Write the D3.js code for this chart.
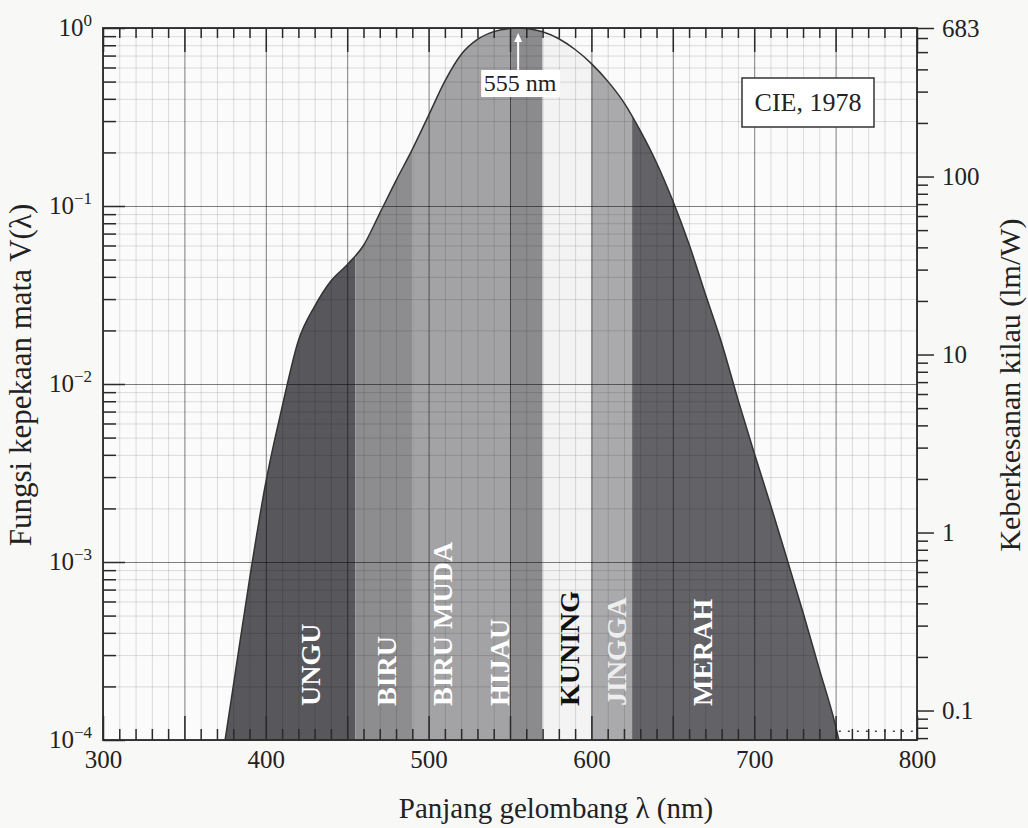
<!DOCTYPE html>
<html>
<head>
<meta charset="utf-8">
<script src="https://cdn.jsdelivr.net/npm/d3@7"></script>
<style>
  body { margin: 0; background: #f8f8f7; }
  svg { display: block; font-family: "Liberation Serif", "Times New Roman", serif; }
</style>
</head>
<body>
<script>
// V(lambda) (CIE 1978 photopic curve)
const wavelengths = [375, 380, 390, 400, 410, 420, 430, 440, 450, 460, 470, 480, 490, 500,
  510, 520, 530, 540, 550, 555, 560, 570, 580, 590, 600, 610, 620, 630, 640, 650, 660,
  670, 680, 690, 700, 710, 720, 730, 740, 750, 752];
const sensitivity = [1.0e-4, 2.0e-4, 8.0e-4, 2.8e-3, 7.4e-3, 1.75e-2, 2.73e-2, 3.79e-2, 4.68e-2,
  6.0e-2, 9.1e-2, 0.139, 0.208, 0.323, 0.503, 0.710, 0.862, 0.954, 0.995, 1.0, 0.995, 0.952,
  0.870, 0.757, 0.631, 0.503, 0.381, 0.265, 0.175, 0.107, 0.061, 0.032, 0.017, 0.0082,
  0.0041, 0.0021, 0.00105, 0.00052, 0.00025, 0.00012, 0.0001];

// colour bands
const bandNames = ["UNGU", "BIRU", "BIRU MUDA", "HIJAU", "KUNING", "JINGGA", "MERAH"];
const bandStarts = [370, 455, 490, 550, 570, 600, 625];
const bandEnds = [455, 490, 550, 570, 600, 625, 760];
const bandLabelAt = [427, 474, 508.5, 543.5, 586.5, 615.5, 668];
const bandColors = ["#58585c", "#8d8d90", "#a3a3a6", "#8b8b8e", "#f3f3f3", "#aaaaad", "#636367"];
const bandTextColors = ["#fff", "#fff", "#fff", "#fff", "#111", "#eee", "#fff"];

// axes
const xLabelTicks = [300, 400, 500, 600, 700, 800];
const leftDecades = [1e-4, 1e-3, 1e-2, 1e-1, 1];
const rightMajor = [0.1, 1, 10, 100, 683];
const rightLabels = ["0.1", "1", "10", "100", "683"];

const peakWavelength = 555;
const tailWavelengths = [752, 800];
const tailLevel = 1.12e-4;

const width = 1028, height = 828;
const plot = {left: 103, right: 917, top: 28, bottom: 740};

const svg = d3.select("body").append("svg")
    .attr("width", width)
    .attr("height", height);

const x = d3.scaleLinear().domain([300, 800]).range([plot.left, plot.right]);
const y = d3.scaleLog().domain([1e-4, 1]).range([plot.bottom, plot.top]);
const yR = d3.scaleLog().domain([683e-4, 683]).range([plot.bottom, plot.top]);

const isDecade = d => Math.abs(Math.log10(d) - Math.round(Math.log10(d))) < 1e-6;
const tens = d3.range(300, 801, 10);

const data = wavelengths.map((w, i) => ({w: w, v: sensitivity[i]}));

// plot background
svg.append("rect")
    .attr("x", plot.left).attr("y", plot.top)
    .attr("width", plot.right - plot.left).attr("height", plot.bottom - plot.top)
    .attr("fill", "#fbfbfb");

// area under the curve as a clip for the bands
const area = d3.area()
    .x(d => x(d.w))
    .y0(y(1e-4))
    .y1(d => y(d.v))
    .curve(d3.curveMonotoneX);

svg.append("clipPath").attr("id", "under")
  .append("path").datum(data).attr("d", area);

svg.append("g")
    .attr("clip-path", "url(#under)")
  .selectAll("rect")
  .data(bandNames)
  .join("rect")
    .attr("x", (d, i) => x(bandStarts[i]))
    .attr("width", (d, i) => x(bandEnds[i]) - x(bandStarts[i]))
    .attr("y", plot.top)
    .attr("height", plot.bottom - plot.top)
    .attr("fill", (d, i) => bandColors[i]);

// grid
const grid = svg.append("g");
grid.append("g")
    .attr("transform", `translate(0,${plot.bottom})`)
    .call(d3.axisBottom(x).tickValues(tens).tickSize(-(plot.bottom - plot.top)).tickFormat(""))
    .call(g => g.select(".domain").remove())
    .selectAll("line")
    .attr("stroke", "#000")
    .attr("stroke-opacity", d => d % 50 === 0 ? 0.5 : 0.13);
grid.append("g")
    .attr("transform", `translate(${plot.left},0)`)
    .call(d3.axisLeft(y).tickValues(y.ticks()).tickSize(-(plot.right - plot.left)).tickFormat(""))
    .call(g => g.select(".domain").remove())
    .selectAll("line")
    .attr("stroke", "#000")
    .attr("stroke-opacity", d => isDecade(d) ? 0.5 : 0.13);

// curve
svg.append("path")
    .datum(data)
    .attr("fill", "none")
    .attr("stroke", "#333")
    .attr("stroke-width", 1.5)
    .attr("d", d3.line().x(d => x(d.w)).y(d => y(d.v)).curve(d3.curveMonotoneX));

// dotted tail along the bottom
svg.append("line")
    .attr("x1", x(tailWavelengths[0])).attr("x2", x(tailWavelengths[1]))
    .attr("y1", y(tailLevel)).attr("y2", y(tailLevel))
    .attr("stroke", "#444")
    .attr("stroke-width", 1.5)
    .attr("stroke-dasharray", "2,7");

// band labels
svg.append("g")
  .selectAll("text")
  .data(bandNames)
  .join("text")
    .attr("x", (d, i) => x(bandLabelAt[i]))
    .attr("y", 706)
    .attr("transform", (d, i) => `rotate(-90,${x(bandLabelAt[i])},706)`)
    .attr("dy", "0.35em")
    .attr("font-size", 28)
    .attr("font-weight", "bold")
    .attr("fill", (d, i) => bandTextColors[i])
    .text(d => d);

// axis styling helper
function styleAxis(g) {
  g.attr("font-family", null).attr("font-size", 25).attr("color", "#222");
  g.select(".domain").remove();
  g.selectAll(".tick line").attr("stroke", "#2a2a2a").attr("stroke-width", 1.5);
}

// top axis (ticks inward)
svg.append("g")
    .attr("transform", `translate(0,${plot.top})`)
    .call(d3.axisTop(x).tickValues(tens).tickSize(-10).tickFormat(""))
    .call(styleAxis)
    .call(g => g.selectAll(".tick line").attr("y2", d => d % 50 === 0 ? 24 : 10));

// bottom axis (ticks inward)
svg.append("g")
    .attr("transform", `translate(0,${plot.bottom})`)
    .call(d3.axisBottom(x).tickValues(tens).tickSize(-11).tickPadding(10)
      .tickFormat(d => xLabelTicks.includes(d) ? d : ""))
    .call(styleAxis)
    .call(g => g.selectAll(".tick line").attr("y2", d => d % 50 === 0 ? -24 : -11));

// left axis ticks (inward)
svg.append("g")
    .attr("transform", `translate(${plot.left},0)`)
    .call(d3.axisLeft(y).tickValues(y.ticks()).tickSize(-13).tickFormat(""))
    .call(styleAxis)
    .call(g => g.selectAll(".tick line").attr("x2", d => isDecade(d) ? 22 : 13));

// left axis labels with exponents
svg.append("g")
    .attr("transform", `translate(${plot.left},0)`)
    .call(d3.axisLeft(y).tickValues(leftDecades).tickSize(0).tickPadding(11).tickFormat(""))
    .call(styleAxis)
    .call(g => g.selectAll(".tick line").remove())
    .call(g => g.selectAll(".tick text").each(function(d) {
      const t = d3.select(this).attr("dy", "0.3em");
      const e = Math.round(Math.log10(d));
      t.append("tspan").text("10");
      t.append("tspan").attr("dy", "-0.6em").attr("font-size", 17)
        .text(e === 0 ? "0" : "\u2212" + Math.abs(e));
    }));

// right axis (ticks outward)
svg.append("g")
    .attr("transform", `translate(${plot.right},0)`)
    .call(d3.axisRight(yR).tickValues(yR.ticks().concat([683])).tickSize(11).tickFormat(""))
    .call(styleAxis)
    .call(g => g.selectAll(".tick line").attr("x2", d => rightMajor.includes(d) ? 17 : 11));

svg.append("g")
    .attr("transform", `translate(${plot.right},0)`)
    .call(d3.axisRight(yR).tickValues(rightMajor).tickSize(0).tickPadding(25)
      .tickFormat((d, i) => rightLabels[i]))
    .call(styleAxis)
    .call(g => g.selectAll(".tick line").remove());

// frame
svg.append("rect")
    .attr("x", plot.left).attr("y", plot.top)
    .attr("width", plot.right - plot.left).attr("height", plot.bottom - plot.top)
    .attr("fill", "none")
    .attr("stroke", "#2a2a2a")
    .attr("stroke-width", 1.8);

// peak annotation
const px = x(peakWavelength);
const peak = svg.append("g");
peak.append("line")
    .attr("x1", px).attr("x2", px)
    .attr("y1", 72).attr("y2", 40)
    .attr("stroke", "#fff").attr("stroke-width", 2);
peak.append("path")
    .attr("d", `M${px - 4},${42} L${px},${33} L${px + 4},${42} Z`)
    .attr("fill", "#fff");
peak.append("rect")
    .attr("x", px - 37).attr("y", 70)
    .attr("width", 79).attr("height", 27)
    .attr("fill", "#fff");
peak.append("text")
    .attr("x", px + 2).attr("y", 91)
    .attr("text-anchor", "middle")
    .attr("font-size", 24)
    .attr("fill", "#222")
    .text(peakWavelength + " nm");

// CIE legend box
const legend = svg.append("g");
legend.append("rect")
    .attr("x", 742).attr("y", 78)
    .attr("width", 132).attr("height", 49)
    .attr("fill", "#fff")
    .attr("stroke", "#333")
    .attr("stroke-width", 1.5);
legend.append("text")
    .attr("x", 808).attr("y", 111)
    .attr("text-anchor", "middle")
    .attr("font-size", 26)
    .attr("fill", "#222")
    .text("CIE, 1978");

// axis titles
svg.append("text")
    .attr("x", 556).attr("y", 818)
    .attr("text-anchor", "middle")
    .attr("font-size", 29)
    .attr("fill", "#222")
    .text("Panjang gelombang \u03bb (nm)");

svg.append("text")
    .attr("transform", "translate(31,375) rotate(-90)")
    .attr("text-anchor", "middle")
    .attr("font-size", 31)
    .attr("fill", "#222")
    .text("Fungsi kepekaan mata V(\u03bb)");

svg.append("text")
    .attr("transform", "translate(1020,385) rotate(-90)")
    .attr("text-anchor", "middle")
    .attr("font-size", 30)
    .attr("fill", "#222")
    .text("Keberkesanan kilau (lm/W)");
</script>
</body>
</html>
